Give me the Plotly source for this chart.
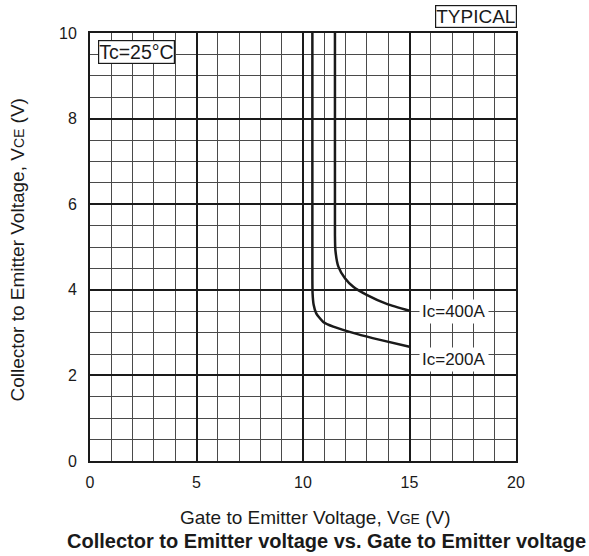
import plotly.graph_objects as go

# Gate-emitter voltage (V) vs collector-emitter voltage (V), typical curves at Tc=25°C
vge_200 = [10.44, 10.44, 10.45, 10.50, 10.62, 10.95, 11.42, 12.52, 13.62, 15.0]
vce_200 = [10.0, 4.3, 3.92, 3.65, 3.45, 3.25, 3.14, 2.97, 2.83, 2.67]
vge_400 = [11.50, 11.50, 11.52, 11.66, 11.97, 12.36, 12.99, 13.93, 15.0]
vce_400 = [10.0, 5.3, 4.93, 4.54, 4.27, 4.07, 3.88, 3.67, 3.51]

x_ticks = [0, 5, 10, 15, 20]
y_ticks = [0, 2, 4, 6, 8, 10]

curve_labels = ["Ic=200A", "Ic=400A"]
label_pos = [(17.1, 2.38), (17.1, 3.5)]

FONT = "Liberation Sans, Arial, sans-serif"
INK = "#1a1a1a"

fig = go.Figure()
for xs, ys in [(vge_200, vce_200), (vge_400, vce_400)]:
    fig.add_trace(go.Scatter(x=xs, y=ys, mode="lines",
                             line=dict(color=INK, width=2.5, shape="spline", smoothing=0.6),
                             showlegend=False, hoverinfo="skip"))

for txt, (lx, ly) in zip(curve_labels, label_pos):
    fig.add_annotation(x=lx, y=ly, text=txt, showarrow=False,
                       font=dict(family=FONT, size=17, color=INK),
                       bgcolor="white", borderpad=2)

fig.add_annotation(xref="paper", yref="paper", x=0.018, y=0.984, xanchor="left", yanchor="top",
                   text="Tc=25°C", showarrow=False,
                   font=dict(family=FONT, size=19.5, color=INK),
                   bgcolor="white", bordercolor=INK, borderwidth=1.2, borderpad=0)
fig.add_annotation(xref="paper", yref="paper", x=1.002, y=1.012, xanchor="right", yanchor="bottom",
                   text="TYPICAL", showarrow=False,
                   font=dict(family=FONT, size=19, color=INK),
                   bgcolor="white", bordercolor=INK, borderwidth=1.2, borderpad=0)

# Axis titles and chart caption
fig.add_annotation(xref="paper", yref="paper", x=0.53, y=-0.133, xanchor="center", yanchor="middle",
                   text="Gate to Emitter Voltage, V<span style='font-size:14px'>GE</span> (V)",
                   showarrow=False, font=dict(family=FONT, size=19, color=INK))
fig.add_annotation(xref="paper", yref="paper", x=-0.17, y=0.493, xanchor="center", yanchor="middle",
                   textangle=-90,
                   text="Collector to Emitter Voltage, V<span style='font-size:14px'>CE</span> (V)",
                   showarrow=False, font=dict(family=FONT, size=19, color=INK))
fig.add_annotation(xref="paper", yref="paper", x=0.554, y=-0.187, xanchor="center", yanchor="middle",
                   text="<b>Collector to Emitter voltage vs. Gate to Emitter voltage</b>",
                   showarrow=False, font=dict(family=FONT, size=20, color=INK))

axis_common = dict(showline=True, linecolor=INK, linewidth=2, mirror=True,
                   ticks="", zeroline=False, automargin=False,
                   tickfont=dict(family=FONT, size=16, color=INK))

fig.update_xaxes(range=[0, 20], tickvals=x_ticks, ticktext=[str(v) for v in x_ticks],
                 showgrid=True, gridcolor=INK, gridwidth=1.6, ticklabelstandoff=6,
                 minor=dict(dtick=1, showgrid=True, gridcolor="#4a4a4a", gridwidth=1),
                 **axis_common)
fig.update_yaxes(range=[0, 10], tickvals=y_ticks, ticktext=[str(v) for v in y_ticks],
                 showgrid=True, gridcolor=INK, gridwidth=1.6, ticklabelstandoff=8,
                 minor=dict(dtick=0.5, showgrid=True, gridcolor="#4a4a4a", gridwidth=1),
                 **axis_common)

fig.update_layout(width=589, height=556, plot_bgcolor="white", paper_bgcolor="white",
                  margin=dict(l=90, r=73, t=33, b=95))

fig.write_html("out.html")
